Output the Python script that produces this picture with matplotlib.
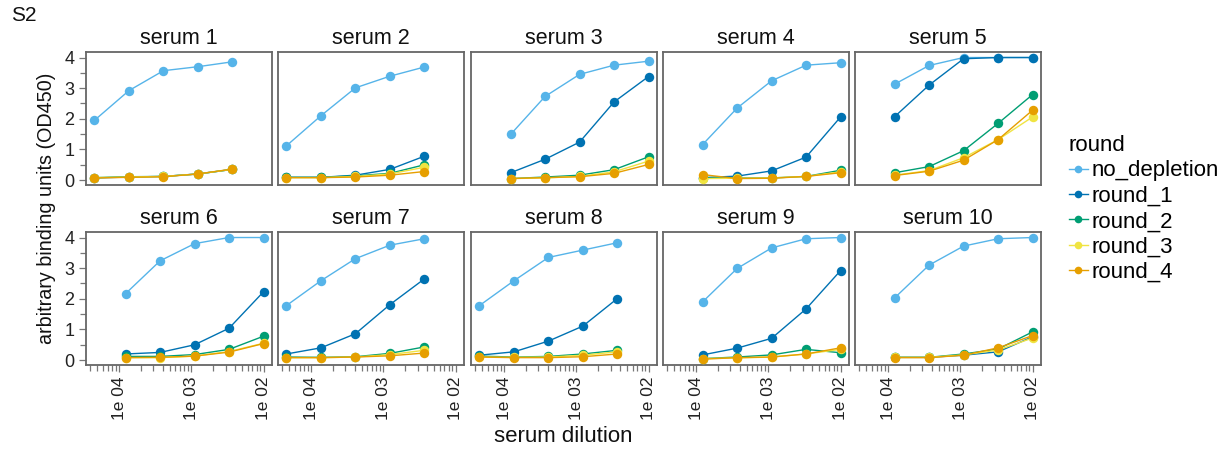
import matplotlib
matplotlib.use("Agg")
import matplotlib.pyplot as plt
import numpy as np
from matplotlib.lines import Line2D
from matplotlib.ticker import FixedLocator, LogLocator, MultipleLocator, NullFormatter

plt.rcParams["font.family"] = ["Liberation Sans", "DejaVu Sans"]

rounds = ["no_depletion", "round_1", "round_2", "round_3", "round_4"]
round_colors = ["#56B4E9", "#0072B2", "#009E73", "#F0E442", "#E69F00"]

# serum concentration (1 / dilution), two dilution series
conc_from_100 = [1 / 8100, 1 / 2700, 1 / 900, 1 / 300, 1 / 100]
conc_from_270 = [1 / 21870, 1 / 7290, 1 / 2430, 1 / 810, 1 / 270]

sera = ["serum 1", "serum 2", "serum 3", "serum 4", "serum 5",
        "serum 6", "serum 7", "serum 8", "serum 9", "serum 10"]
serum_series = ["270", "270", "100", "100", "100",
                "100", "270", "270", "100", "100"]

# OD450 per round (rows: no_depletion, round_1..round_4), left to right
serum1 = [[1.95, 2.92, 3.57, 3.70, 3.86],
          [0.07, 0.10, 0.12, 0.20, 0.35],
          [0.08, 0.11, 0.12, 0.20, 0.35],
          [0.08, 0.10, 0.12, 0.20, 0.35],
          [0.07, 0.09, 0.11, 0.20, 0.36]]
serum2 = [[1.12, 2.10, 3.01, 3.39, 3.69],
          [0.09, 0.09, 0.16, 0.35, 0.78],
          [0.09, 0.09, 0.14, 0.22, 0.50],
          [0.08, 0.08, 0.12, 0.20, 0.42],
          [0.08, 0.08, 0.10, 0.16, 0.28]]
serum3 = [[1.49, 2.73, 3.45, 3.75, 3.88],
          [0.24, 0.68, 1.24, 2.55, 3.38],
          [0.05, 0.10, 0.16, 0.34, 0.76],
          [0.05, 0.07, 0.12, 0.27, 0.62],
          [0.05, 0.08, 0.11, 0.22, 0.51]]
serum4 = [[1.16, 2.35, 3.24, 3.75, 3.83],
          [0.08, 0.13, 0.30, 0.75, 2.06],
          [0.07, 0.07, 0.07, 0.12, 0.32],
          [0.05, 0.06, 0.07, 0.12, 0.27],
          [0.18, 0.05, 0.06, 0.12, 0.24]]
serum5 = [[3.13, 3.74, 4.00, 4.00, 4.00],
          [2.07, 3.10, 3.96, 4.00, 4.00],
          [0.24, 0.44, 0.96, 1.85, 2.79],
          [0.16, 0.31, 0.73, 1.32, 2.06],
          [0.15, 0.29, 0.65, 1.32, 2.28]]
serum6 = [[2.17, 3.24, 3.80, 4.00, 4.00],
          [0.20, 0.25, 0.50, 1.04, 2.23],
          [0.12, 0.12, 0.18, 0.35, 0.78],
          [0.08, 0.08, 0.13, 0.28, 0.55],
          [0.08, 0.09, 0.13, 0.26, 0.54]]
serum7 = [[1.78, 2.59, 3.31, 3.75, 3.96],
          [0.20, 0.40, 0.86, 1.81, 2.65],
          [0.10, 0.09, 0.11, 0.22, 0.43],
          [0.08, 0.08, 0.10, 0.18, 0.32],
          [0.08, 0.08, 0.10, 0.14, 0.23]]
serum8 = [[1.78, 2.59, 3.35, 3.59, 3.83],
          [0.16, 0.27, 0.62, 1.11, 2.01],
          [0.13, 0.10, 0.12, 0.20, 0.32],
          [0.10, 0.09, 0.10, 0.16, 0.27],
          [0.10, 0.08, 0.08, 0.11, 0.20]]
serum9 = [[1.90, 2.99, 3.66, 3.96, 4.00],
          [0.17, 0.39, 0.71, 1.67, 2.92],
          [0.05, 0.10, 0.17, 0.35, 0.24],
          [0.05, 0.07, 0.10, 0.20, 0.35],
          [0.03, 0.08, 0.10, 0.20, 0.40]]
serum10 = [[2.03, 3.10, 3.72, 3.96, 4.00],
           [0.09, 0.09, 0.16, 0.27, 0.76],
           [0.09, 0.09, 0.20, 0.36, 0.92],
           [0.09, 0.09, 0.17, 0.33, 0.72],
           [0.08, 0.08, 0.16, 0.40, 0.80]]
serum_values = [serum1, serum2, serum3, serum4, serum5,
                serum6, serum7, serum8, serum9, serum10]

x_ticks = [1e-4, 1e-3, 1e-2]
x_tick_labels = ["1e 04", "1e 03", "1e 02"]
y_ticks = [0, 1, 2, 3, 4]

W, H = 1226, 450
fig = plt.figure(figsize=(W / 100, H / 100), dpi=100)

lefts = [86, 278, 471, 663, 855]
tops = [52, 232]
pw, ph = 186, 133

# x limits: 5% padding of the log range, like ggplot
all_x = np.log10(conc_from_100 + conc_from_270)
pad = 0.05 * (all_x.max() - all_x.min())
xlim = (10 ** (all_x.min() - pad), 10 ** (all_x.max() + pad))

frame_col = "#666666"
for i, name in enumerate(sera):
    r, c = divmod(i, 5)
    ax = fig.add_axes([lefts[c] / W, 1 - (tops[r] + ph) / H, pw / W, ph / H])
    xs = conc_from_100 if serum_series[i] == "100" else conc_from_270
    for vals, col in zip(serum_values[i], round_colors):
        ax.plot(xs, vals, color=col, lw=1.0, marker="o", ms=6.8,
                markeredgewidth=0, zorder=3)
    ax.set_xscale("log")
    ax.set_xlim(*xlim)
    ax.set_ylim(-0.16, 4.18)
    for s in ax.spines.values():
        s.set_color(frame_col)
        s.set_linewidth(1.3)
    ax.set_title(name, fontsize=15.5, pad=6, color="#111111")

    ax.xaxis.set_major_locator(FixedLocator(x_ticks))
    ax.xaxis.set_minor_locator(LogLocator(base=10, subs=np.arange(2, 10)))
    ax.xaxis.set_minor_formatter(NullFormatter())
    ax.yaxis.set_major_locator(FixedLocator(y_ticks))
    ax.yaxis.set_minor_locator(MultipleLocator(0.5))
    ax.tick_params(which="both", color="#777777", width=0.9)
    ax.tick_params(which="major", length=5)
    ax.tick_params(which="minor", length=4)

    if r == 1:
        ax.set_xticklabels(x_tick_labels, rotation=90, fontsize=12.5, color="#222222")
    else:
        ax.tick_params(axis="x", which="both", bottom=False, labelbottom=False)
    if c == 0:
        ax.set_yticklabels([str(t) for t in y_ticks], fontsize=13, color="#222222")
    else:
        ax.tick_params(axis="y", which="both", left=False, labelleft=False)

fig.text(11 / W, 1 - 6 / H, "S2", fontsize=15, va="top", ha="left", color="#111111")
fig.text(47 / W, 1 - 208 / H, "arbitrary binding units (OD450)", rotation=90,
         fontsize=14.2, ha="center", va="center", color="#111111")
fig.text(563 / W, 1 - 437 / H, "serum dilution", fontsize=16, ha="center",
         va="center", color="#111111")

handles = [Line2D([0], [0], color=col, lw=1.0, marker="o", ms=5.5, markeredgewidth=0)
           for col in round_colors]
leg = fig.legend(handles, rounds, title="round", loc="upper left",
                 bbox_to_anchor=(1060 / W, 1 - 126 / H), frameon=False,
                 fontsize=16, title_fontsize=16, handlelength=0.85,
                 handletextpad=0.15, labelspacing=0.2, borderaxespad=0,
                 alignment="left")

fig.savefig("out.png", dpi=100)
